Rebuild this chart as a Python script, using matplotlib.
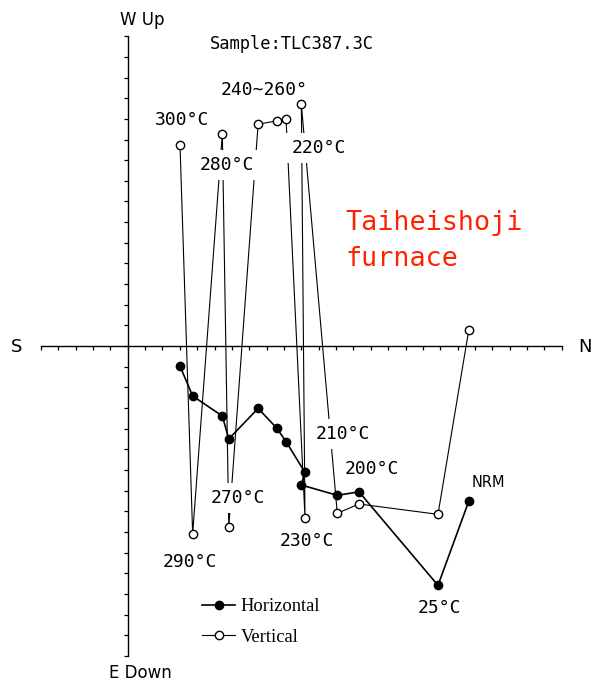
import matplotlib
matplotlib.use("Agg")
import matplotlib.pyplot as plt
from matplotlib.lines import Line2D

# ---- data (tick units) ----
steps = ["NRM", "25", "200", "210", "220", "230", "240", "250", "260", "270", "280", "290", "300"]
north = [19.64, 17.87, 13.32, 12.07, 10.00, 10.21, 9.12, 8.58, 7.51, 5.82, 5.45, 3.74, 3.01]
east = [7.52, 11.59, 7.06, 7.23, 6.73, 6.12, 4.63, 3.97, 3.02, 4.50, 3.39, 2.42, 0.97]
up = [0.76, -8.15, -7.65, -8.10, 11.70, -8.31, 10.98, 10.90, 10.74, -8.75, 10.28, -9.10, 9.75]

label_texts = ["300°C", "280°C", "240~260°", "220°C", "210°C", "200°C", "NRM",
               "25°C", "230°C", "270°C", "290°C"]
label_x = [3.10, 5.72, 7.85, 11.02, 12.40, 14.07, 20.75, 17.93, 10.33, 6.35, 3.59]
label_y = [10.94, 8.77, 12.40, 9.59, -4.26, -5.96, -6.63, -12.69, -9.44, -7.36, -10.46]

x_ticks = list(range(-5, 26))
y_ticks = list(range(-15, 16))

fig = plt.figure(figsize=(5.92, 6.81), dpi=100)
ax = fig.add_axes([0, 0, 1, 1])
ax.set_xlim(-7.356, 26.74)
ax.set_ylim(-16.22, 16.755)
ax.patch.set_alpha(0)

for s in ["top", "right"]:
    ax.spines[s].set_visible(False)
ax.spines["left"].set_position(("data", 0))
ax.spines["bottom"].set_position(("data", 0))
ax.spines["left"].set_bounds(-15, 15)
ax.spines["bottom"].set_bounds(-5, 25)
ax.spines["left"].set_linewidth(1.0)
ax.spines["bottom"].set_linewidth(1.0)
ax.set_xticks(x_ticks)
ax.set_yticks(y_ticks)
ax.set_xticklabels([])
ax.set_yticklabels([])
ax.tick_params(axis="x", direction="out", length=2.8, width=0.9)
ax.tick_params(axis="y", direction="out", length=2.8, width=0.9)

east_plot = [-e for e in east]
# connecting lines (beneath the label boxes)
ax.plot(north, east_plot, color="black", lw=1.2, zorder=3)
ax.plot(north, up, color="black", lw=0.8, zorder=3)
# markers (above the label boxes)
ax.plot(north, east_plot, ls="none", marker="o", ms=6,
        mfc="black", mec="black", zorder=6)
ax.plot(north, up, ls="none", marker="o", ms=6,
        mfc="white", mec="black", mew=1.0, zorder=6)

for t, x, y in zip(label_texts, label_x, label_y):
    fam = "DejaVu Sans" if t == "NRM" else "DejaVu Sans Mono"
    fs = 10.5 if t == "NRM" else 13
    bb = None if t == "NRM" else dict(facecolor="white", edgecolor="none", pad=4)
    ax.text(x, y, t, ha="center", va="center", fontsize=fs, family=fam,
            bbox=bb, zorder=5)

ax.text(0.82, 15.79, "W Up", ha="center", va="center", fontsize=12, family="DejaVu Sans")
ax.text(0.71, -15.84, "E Down", ha="center", va="center", fontsize=12, family="DejaVu Sans")
ax.text(-6.38, -0.05, "S", ha="center", va="center", fontsize=13, family="DejaVu Sans")
ax.text(26.34, -0.05, "N", ha="center", va="center", fontsize=13, family="DejaVu Sans")
ax.text(4.74, 14.62, "Sample:TLC387.3C", ha="left", va="center", fontsize=12.3,
        family="DejaVu Sans Mono")
ax.text(12.52, 5.62, "Taiheishoji", ha="left", va="baseline", fontsize=19.3,
        family="DejaVu Sans Mono", color="#ff2200")
ax.text(12.52, 3.87, "furnace", ha="left", va="baseline", fontsize=19.3,
        family="DejaVu Sans Mono", color="#ff2200")

handles = [
    Line2D([], [], color="black", lw=1.2, marker="o", ms=6, mfc="black", mec="black"),
    Line2D([], [], color="black", lw=0.8, marker="o", ms=6, mfc="white", mec="black"),
]
leg = ax.legend(handles, ["Horizontal", "Vertical"], loc="center left",
                bbox_to_anchor=(202 / 592, 1 - 622 / 681), bbox_transform=fig.transFigure,
                frameon=False, borderpad=0, borderaxespad=0, handlelength=1.8,
                handletextpad=0.3, labelspacing=0.75,
                prop={"family": "Liberation Serif", "size": 13.3})

fig.savefig("out.png", dpi=100)
